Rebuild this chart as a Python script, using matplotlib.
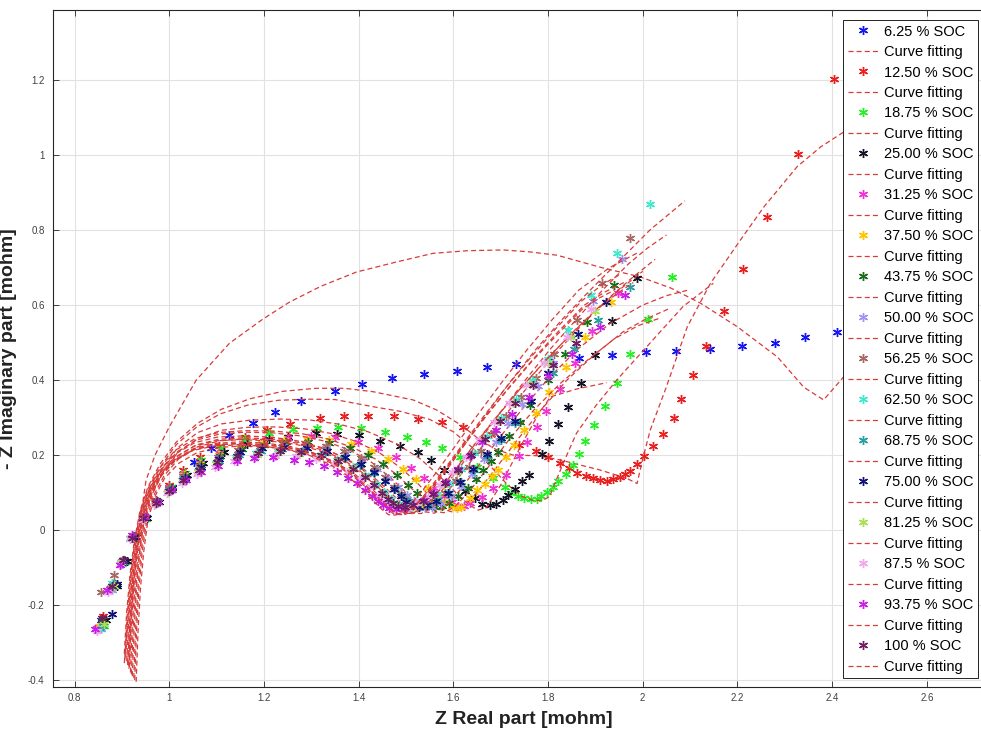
import matplotlib
matplotlib.use("Agg")
import matplotlib.pyplot as plt

plt.rcParams['font.family'] = ['Liberation Sans', 'DejaVu Sans']

# Measured impedance spectra (Nyquist), one set per state of charge
soc_labels = ["6.25 % SOC", "12.50 % SOC", "18.75 % SOC", "25.00 % SOC",
              "31.25 % SOC", "37.50 % SOC", "43.75 % SOC", "50.00 % SOC",
              "56.25 % SOC", "62.50 % SOC", "68.75 % SOC", "75.00 % SOC",
              "81.25 % SOC", "87.5 % SOC", "93.75 % SOC", "100 % SOC"]
soc_colors = ["#1616f0", "#e82020", "#28ee28", "#141426", "#f034d4", "#ffc400",
              "#1c6e1c", "#a094f0", "#a66a64", "#40e8cc", "#28a0a0", "#141478",
              "#a8e050", "#f2a6ec", "#c81ee6", "#6e1e64"]

re_625 = [0.855, 0.880, 0.905, 0.925, 0.950, 0.975, 1.005, 1.030, 1.053, 1.089, 1.127, 1.176, 1.224, 1.279, 1.351, 1.406, 1.470, 1.538, 1.607, 1.671, 1.732, 1.800, 1.866, 1.936, 2.007, 2.071, 2.141, 2.209, 2.279, 2.343, 2.411]
im_625 = [-0.240, -0.150, -0.080, -0.015, 0.035, 0.078, 0.115, 0.150, 0.181, 0.219, 0.253, 0.285, 0.316, 0.344, 0.371, 0.389, 0.405, 0.416, 0.424, 0.435, 0.443, 0.452, 0.460, 0.467, 0.475, 0.478, 0.484, 0.491, 0.500, 0.516, 0.527]
re_1250 = [0.860, 0.885, 0.905, 0.925, 0.948, 0.972, 1.000, 1.030, 1.065, 1.105, 1.159, 1.206, 1.256, 1.319, 1.368, 1.419, 1.474, 1.526, 1.575, 1.620, 1.680, 1.739, 1.774, 1.800, 1.825, 1.845, 1.862, 1.880, 1.895, 1.910, 1.924, 1.937, 1.951, 1.963, 1.974, 1.988, 2.003, 2.021, 2.043, 2.065, 2.081, 2.106, 2.134, 2.172, 2.211, 2.262, 2.327, 2.404]
im_1250 = [-0.230, -0.145, -0.080, -0.015, 0.035, 0.080, 0.120, 0.160, 0.195, 0.225, 0.249, 0.267, 0.282, 0.298, 0.304, 0.305, 0.303, 0.295, 0.287, 0.275, 0.255, 0.227, 0.211, 0.194, 0.178, 0.166, 0.153, 0.145, 0.138, 0.133, 0.131, 0.137, 0.142, 0.149, 0.158, 0.175, 0.197, 0.224, 0.256, 0.298, 0.349, 0.413, 0.491, 0.585, 0.696, 0.834, 1.002, 1.204]
re_1875 = [0.862, 0.884, 0.906, 0.926, 0.950, 0.975, 1.003, 1.033, 1.068, 1.110, 1.160, 1.210, 1.262, 1.311, 1.357, 1.405, 1.456, 1.503, 1.542, 1.577, 1.615, 1.650, 1.683, 1.709, 1.722, 1.736, 1.750, 1.763, 1.776, 1.786, 1.798, 1.810, 1.822, 1.838, 1.853, 1.866, 1.878, 1.898, 1.920, 1.946, 1.974, 2.012, 2.062]
im_1875 = [-0.255, -0.150, -0.085, -0.020, 0.030, 0.075, 0.115, 0.152, 0.188, 0.218, 0.242, 0.258, 0.269, 0.273, 0.276, 0.271, 0.262, 0.249, 0.234, 0.218, 0.195, 0.168, 0.140, 0.116, 0.100, 0.090, 0.085, 0.082, 0.082, 0.091, 0.102, 0.115, 0.131, 0.149, 0.173, 0.203, 0.238, 0.280, 0.332, 0.391, 0.469, 0.563, 0.674]
re_2500 = [0.866, 0.890, 0.910, 0.930, 0.952, 0.978, 1.006, 1.037, 1.072, 1.115, 1.165, 1.210, 1.251, 1.309, 1.355, 1.400, 1.445, 1.487, 1.525, 1.553, 1.580, 1.605, 1.625, 1.645, 1.660, 1.677, 1.691, 1.705, 1.716, 1.730, 1.746, 1.760, 1.787, 1.803, 1.820, 1.843, 1.869, 1.900, 1.935, 1.987]
im_2500 = [-0.240, -0.148, -0.082, -0.018, 0.032, 0.075, 0.112, 0.148, 0.180, 0.208, 0.230, 0.243, 0.249, 0.258, 0.257, 0.253, 0.238, 0.224, 0.209, 0.187, 0.160, 0.130, 0.105, 0.085, 0.069, 0.066, 0.069, 0.080, 0.093, 0.110, 0.131, 0.148, 0.203, 0.238, 0.282, 0.329, 0.393, 0.467, 0.558, 0.671]
re_3125 = [0.848, 0.874, 0.898, 0.920, 0.946, 0.972, 1.000, 1.030, 1.064, 1.105, 1.152, 1.200, 1.250, 1.300, 1.350, 1.398, 1.440, 1.478, 1.510, 1.538, 1.560, 1.580, 1.597, 1.610, 1.622, 1.635, 1.660, 1.684, 1.712, 1.739, 1.755, 1.776, 1.796, 1.825, 1.857, 1.893, 1.947]
im_3125 = [-0.262, -0.158, -0.088, -0.020, 0.035, 0.078, 0.115, 0.150, 0.180, 0.205, 0.225, 0.238, 0.246, 0.250, 0.247, 0.236, 0.218, 0.194, 0.166, 0.138, 0.112, 0.090, 0.074, 0.065, 0.064, 0.071, 0.089, 0.111, 0.147, 0.197, 0.234, 0.276, 0.318, 0.375, 0.446, 0.532, 0.631]
re_3750 = [0.852, 0.877, 0.900, 0.922, 0.947, 0.973, 1.001, 1.031, 1.065, 1.105, 1.150, 1.196, 1.243, 1.290, 1.338, 1.384, 1.425, 1.462, 1.494, 1.522, 1.546, 1.566, 1.583, 1.597, 1.607, 1.617, 1.635, 1.650, 1.666, 1.681, 1.695, 1.712, 1.728, 1.749, 1.774, 1.803, 1.838, 1.879, 1.933]
im_3750 = [-0.255, -0.152, -0.085, -0.018, 0.034, 0.076, 0.112, 0.146, 0.175, 0.199, 0.218, 0.231, 0.239, 0.243, 0.240, 0.229, 0.211, 0.189, 0.163, 0.136, 0.111, 0.090, 0.074, 0.064, 0.060, 0.062, 0.085, 0.107, 0.123, 0.145, 0.160, 0.194, 0.227, 0.267, 0.313, 0.367, 0.436, 0.516, 0.609]
re_4375 = [0.857, 0.882, 0.903, 0.925, 0.949, 0.975, 1.003, 1.034, 1.068, 1.108, 1.153, 1.199, 1.246, 1.292, 1.338, 1.381, 1.419, 1.452, 1.480, 1.504, 1.524, 1.540, 1.553, 1.561, 1.575, 1.590, 1.610, 1.630, 1.648, 1.663, 1.680, 1.695, 1.718, 1.741, 1.762, 1.800, 1.836, 1.882, 1.939]
im_4375 = [-0.240, -0.145, -0.080, -0.015, 0.036, 0.077, 0.112, 0.145, 0.173, 0.197, 0.215, 0.227, 0.234, 0.236, 0.231, 0.218, 0.199, 0.175, 0.148, 0.121, 0.098, 0.080, 0.068, 0.062, 0.064, 0.072, 0.090, 0.112, 0.135, 0.160, 0.185, 0.209, 0.250, 0.289, 0.333, 0.400, 0.469, 0.554, 0.653]
re_5000 = [0.855, 0.878, 0.900, 0.921, 0.946, 0.972, 1.000, 1.030, 1.064, 1.103, 1.147, 1.193, 1.240, 1.287, 1.332, 1.373, 1.408, 1.438, 1.463, 1.484, 1.502, 1.516, 1.528, 1.540, 1.555, 1.573, 1.594, 1.617, 1.640, 1.665, 1.690, 1.716, 1.745, 1.778, 1.810, 1.846, 1.894, 1.957]
im_5000 = [-0.265, -0.160, -0.090, -0.022, 0.032, 0.074, 0.108, 0.140, 0.167, 0.189, 0.206, 0.218, 0.224, 0.225, 0.219, 0.206, 0.187, 0.164, 0.139, 0.114, 0.093, 0.077, 0.065, 0.060, 0.062, 0.072, 0.092, 0.118, 0.150, 0.190, 0.235, 0.285, 0.335, 0.385, 0.445, 0.520, 0.611, 0.722]
re_5625 = [0.856, 0.884, 0.900, 0.920, 0.945, 0.971, 0.999, 1.029, 1.063, 1.102, 1.146, 1.192, 1.239, 1.286, 1.330, 1.370, 1.404, 1.432, 1.455, 1.474, 1.489, 1.501, 1.512, 1.525, 1.541, 1.560, 1.582, 1.606, 1.632, 1.658, 1.685, 1.712, 1.742, 1.775, 1.812, 1.862, 1.914, 1.974]
im_5625 = [-0.165, -0.120, -0.082, -0.020, 0.034, 0.076, 0.111, 0.144, 0.172, 0.195, 0.213, 0.225, 0.231, 0.232, 0.225, 0.211, 0.191, 0.167, 0.141, 0.116, 0.095, 0.079, 0.067, 0.062, 0.066, 0.078, 0.100, 0.130, 0.168, 0.210, 0.258, 0.305, 0.355, 0.405, 0.470, 0.560, 0.660, 0.780]
re_6250 = [0.852, 0.880, 0.897, 0.918, 0.943, 0.969, 0.997, 1.027, 1.060, 1.098, 1.140, 1.184, 1.230, 1.275, 1.318, 1.355, 1.387, 1.414, 1.436, 1.454, 1.468, 1.480, 1.492, 1.506, 1.523, 1.543, 1.566, 1.590, 1.616, 1.643, 1.671, 1.700, 1.732, 1.766, 1.800, 1.843, 1.890, 1.946, 2.015]
im_6250 = [-0.265, -0.142, -0.088, -0.022, 0.030, 0.070, 0.103, 0.133, 0.158, 0.179, 0.195, 0.205, 0.210, 0.209, 0.201, 0.187, 0.168, 0.146, 0.123, 0.101, 0.083, 0.069, 0.060, 0.058, 0.062, 0.074, 0.095, 0.125, 0.162, 0.205, 0.252, 0.300, 0.350, 0.400, 0.455, 0.533, 0.627, 0.738, 0.869]
re_6875 = [0.860, 0.883, 0.902, 0.923, 0.947, 0.973, 1.001, 1.031, 1.065, 1.104, 1.147, 1.193, 1.239, 1.285, 1.329, 1.369, 1.403, 1.432, 1.456, 1.476, 1.492, 1.505, 1.517, 1.530, 1.546, 1.566, 1.590, 1.616, 1.643, 1.671, 1.700, 1.730, 1.765, 1.810, 1.855, 1.906, 1.973]
im_6875 = [-0.255, -0.150, -0.085, -0.020, 0.031, 0.072, 0.106, 0.137, 0.163, 0.185, 0.201, 0.211, 0.215, 0.214, 0.206, 0.192, 0.174, 0.153, 0.131, 0.110, 0.092, 0.078, 0.068, 0.065, 0.068, 0.080, 0.100, 0.127, 0.160, 0.198, 0.240, 0.285, 0.345, 0.418, 0.483, 0.560, 0.647]
re_7500 = [0.879, 0.890, 0.906, 0.926, 0.949, 0.975, 1.003, 1.033, 1.067, 1.106, 1.150, 1.196, 1.243, 1.290, 1.333, 1.372, 1.405, 1.432, 1.455, 1.474, 1.489, 1.501, 1.513, 1.527, 1.544, 1.564, 1.588, 1.614, 1.642, 1.671, 1.700, 1.731, 1.764, 1.800, 1.864, 1.922]
im_7500 = [-0.224, -0.145, -0.083, -0.019, 0.033, 0.074, 0.108, 0.140, 0.167, 0.190, 0.207, 0.218, 0.222, 0.220, 0.211, 0.196, 0.176, 0.154, 0.131, 0.109, 0.090, 0.076, 0.066, 0.062, 0.066, 0.078, 0.099, 0.127, 0.162, 0.202, 0.246, 0.292, 0.345, 0.420, 0.522, 0.609]
re_8125 = [0.862, 0.884, 0.899, 0.920, 0.944, 0.970, 0.998, 1.028, 1.061, 1.099, 1.141, 1.185, 1.230, 1.275, 1.317, 1.354, 1.385, 1.411, 1.432, 1.449, 1.462, 1.473, 1.484, 1.497, 1.513, 1.533, 1.556, 1.581, 1.607, 1.635, 1.664, 1.694, 1.727, 1.762, 1.800, 1.848, 1.900]
im_8125 = [-0.250, -0.148, -0.086, -0.021, 0.030, 0.069, 0.101, 0.130, 0.155, 0.175, 0.190, 0.200, 0.205, 0.204, 0.196, 0.182, 0.163, 0.142, 0.120, 0.099, 0.082, 0.069, 0.061, 0.058, 0.062, 0.073, 0.093, 0.121, 0.156, 0.197, 0.242, 0.290, 0.340, 0.390, 0.445, 0.515, 0.585]
re_8750 = [0.847, 0.870, 0.896, 0.918, 0.942, 0.968, 0.996, 1.026, 1.059, 1.096, 1.137, 1.180, 1.224, 1.268, 1.309, 1.345, 1.376, 1.402, 1.423, 1.440, 1.453, 1.464, 1.475, 1.488, 1.504, 1.524, 1.547, 1.572, 1.598, 1.626, 1.655, 1.685, 1.718, 1.753, 1.792, 1.840, 1.890]
im_8750 = [-0.270, -0.165, -0.090, -0.024, 0.028, 0.066, 0.098, 0.126, 0.150, 0.169, 0.184, 0.194, 0.198, 0.197, 0.189, 0.175, 0.156, 0.135, 0.114, 0.094, 0.078, 0.066, 0.058, 0.056, 0.060, 0.071, 0.091, 0.119, 0.154, 0.195, 0.240, 0.288, 0.338, 0.388, 0.445, 0.515, 0.590]
re_9375 = [0.843, 0.868, 0.895, 0.922, 0.948, 0.976, 1.005, 1.035, 1.068, 1.102, 1.142, 1.179, 1.220, 1.264, 1.296, 1.327, 1.354, 1.377, 1.396, 1.413, 1.428, 1.441, 1.452, 1.464, 1.478, 1.495, 1.515, 1.537, 1.560, 1.584, 1.610, 1.635, 1.660, 1.690, 1.723, 1.760, 1.800, 1.851, 1.910, 1.962]
im_9375 = [-0.265, -0.160, -0.092, -0.013, 0.035, 0.075, 0.107, 0.133, 0.156, 0.171, 0.184, 0.191, 0.194, 0.188, 0.182, 0.171, 0.156, 0.138, 0.125, 0.107, 0.092, 0.078, 0.066, 0.058, 0.055, 0.058, 0.066, 0.080, 0.100, 0.128, 0.162, 0.198, 0.235, 0.267, 0.309, 0.354, 0.410, 0.470, 0.542, 0.627]
re_100 = [0.858, 0.880, 0.902, 0.921, 0.945, 0.971, 0.999, 1.029, 1.062, 1.100, 1.143, 1.188, 1.233, 1.278, 1.320, 1.357, 1.388, 1.413, 1.433, 1.449, 1.461, 1.472, 1.484, 1.498, 1.515, 1.535, 1.558, 1.583, 1.610, 1.638, 1.667, 1.698, 1.731, 1.768, 1.810, 1.860]
im_100 = [-0.235, -0.150, -0.080, -0.020, 0.031, 0.071, 0.104, 0.134, 0.160, 0.181, 0.197, 0.206, 0.210, 0.208, 0.199, 0.184, 0.164, 0.142, 0.120, 0.100, 0.083, 0.071, 0.064, 0.062, 0.066, 0.077, 0.097, 0.125, 0.160, 0.200, 0.244, 0.290, 0.338, 0.388, 0.440, 0.500]

# Equivalent-circuit fits
fre_625 = [0.905, 0.912, 0.920, 0.930, 0.940, 0.951, 0.970, 1.000, 1.057, 1.127, 1.197, 1.254, 1.320, 1.395, 1.480, 1.557, 1.630, 1.705, 1.760, 1.819, 1.910, 1.995, 2.060, 2.122, 2.200, 2.285, 2.340, 2.382, 2.424, 2.460]
fim_625 = [-0.355, -0.250, -0.150, -0.050, 0.040, 0.133, 0.200, 0.275, 0.400, 0.498, 0.562, 0.608, 0.650, 0.688, 0.715, 0.738, 0.745, 0.747, 0.742, 0.733, 0.701, 0.675, 0.645, 0.605, 0.542, 0.461, 0.381, 0.347, 0.408, 0.470]
fre_1250 = [0.905, 0.910, 0.917, 0.926, 0.938, 0.955, 0.980, 1.015, 1.060, 1.110, 1.170, 1.240, 1.310, 1.370, 1.430, 1.515, 1.565, 1.621, 1.656, 1.690, 1.726, 1.780, 1.825, 1.910, 1.966, 1.988, 2.001, 2.016, 2.050, 2.094, 2.143, 2.206, 2.256, 2.326, 2.376, 2.425, 2.480]
fim_1250 = [-0.330, -0.220, -0.120, -0.030, 0.050, 0.115, 0.175, 0.235, 0.285, 0.322, 0.350, 0.370, 0.378, 0.378, 0.369, 0.347, 0.320, 0.276, 0.240, 0.215, 0.200, 0.198, 0.187, 0.160, 0.138, 0.124, 0.195, 0.267, 0.382, 0.542, 0.658, 0.773, 0.862, 0.969, 1.022, 1.062, 1.095]
fre_1875 = [0.912, 0.917, 0.923, 0.931, 0.942, 0.958, 0.982, 1.015, 1.058, 1.108, 1.165, 1.230, 1.296, 1.350, 1.430, 1.490, 1.550, 1.600, 1.640, 1.680, 1.715, 1.745, 1.770, 1.790, 1.803, 1.832, 1.860, 1.900, 1.945, 2.015, 2.085, 2.149]
fim_1875 = [-0.360, -0.240, -0.130, -0.035, 0.045, 0.110, 0.170, 0.228, 0.275, 0.310, 0.333, 0.346, 0.349, 0.348, 0.329, 0.316, 0.295, 0.262, 0.220, 0.168, 0.120, 0.090, 0.078, 0.080, 0.089, 0.178, 0.258, 0.330, 0.400, 0.498, 0.596, 0.658]
fre_2500 = [0.918, 0.922, 0.928, 0.936, 0.947, 0.962, 0.985, 1.018, 1.060, 1.110, 1.170, 1.235, 1.300, 1.360, 1.420, 1.480, 1.530, 1.570, 1.605, 1.632, 1.652, 1.670, 1.700, 1.745, 1.780, 1.805, 1.860, 1.924]
fim_2500 = [-0.380, -0.250, -0.140, -0.045, 0.040, 0.105, 0.165, 0.220, 0.260, 0.283, 0.293, 0.296, 0.293, 0.282, 0.262, 0.230, 0.190, 0.145, 0.100, 0.068, 0.053, 0.060, 0.120, 0.230, 0.310, 0.355, 0.376, 0.393]
fre_3125 = [0.925, 0.929, 0.934, 0.941, 0.951, 0.966, 0.988, 1.020, 1.062, 1.110, 1.165, 1.225, 1.285, 1.340, 1.395, 1.445, 1.490, 1.528, 1.558, 1.580, 1.598, 1.620, 1.650, 1.690, 1.735, 1.785, 1.840, 1.900, 1.960, 2.010, 2.057]
fim_3125 = [-0.395, -0.260, -0.150, -0.050, 0.035, 0.100, 0.158, 0.210, 0.245, 0.266, 0.274, 0.275, 0.270, 0.258, 0.236, 0.205, 0.165, 0.120, 0.080, 0.055, 0.048, 0.060, 0.100, 0.165, 0.240, 0.320, 0.400, 0.470, 0.530, 0.565, 0.591]
fre_3750 = [0.908, 0.913, 0.919, 0.927, 0.938, 0.954, 0.978, 1.012, 1.055, 1.104, 1.160, 1.220, 1.280, 1.335, 1.388, 1.436, 1.478, 1.514, 1.542, 1.562, 1.580, 1.603, 1.635, 1.675, 1.720, 1.770, 1.825, 1.885, 1.940, 1.990, 2.036]
fim_3750 = [-0.340, -0.225, -0.125, -0.035, 0.045, 0.108, 0.163, 0.212, 0.244, 0.260, 0.265, 0.264, 0.257, 0.243, 0.220, 0.189, 0.150, 0.108, 0.072, 0.050, 0.046, 0.062, 0.105, 0.170, 0.245, 0.320, 0.390, 0.455, 0.510, 0.545, 0.565]
fre_4375 = [0.915, 0.919, 0.925, 0.933, 0.944, 0.960, 0.983, 1.016, 1.058, 1.106, 1.160, 1.220, 1.278, 1.332, 1.383, 1.428, 1.467, 1.500, 1.525, 1.543, 1.560, 1.583, 1.615, 1.655, 1.700, 1.750, 1.805, 1.865, 1.930, 2.000, 2.050, 2.096]
fim_4375 = [-0.370, -0.245, -0.135, -0.040, 0.042, 0.105, 0.160, 0.208, 0.240, 0.256, 0.261, 0.259, 0.251, 0.236, 0.212, 0.180, 0.140, 0.100, 0.068, 0.048, 0.045, 0.062, 0.108, 0.175, 0.250, 0.330, 0.410, 0.485, 0.550, 0.600, 0.625, 0.640]
fre_5000 = [0.920, 0.924, 0.930, 0.938, 0.948, 0.963, 0.985, 1.016, 1.057, 1.104, 1.157, 1.215, 1.272, 1.325, 1.372, 1.413, 1.448, 1.477, 1.499, 1.515, 1.532, 1.555, 1.585, 1.622, 1.665, 1.712, 1.762, 1.815, 1.870, 1.925, 1.975, 2.026]
fim_5000 = [-0.385, -0.255, -0.145, -0.048, 0.036, 0.098, 0.151, 0.196, 0.227, 0.242, 0.246, 0.243, 0.234, 0.217, 0.192, 0.160, 0.123, 0.088, 0.060, 0.045, 0.044, 0.060, 0.098, 0.158, 0.230, 0.310, 0.390, 0.470, 0.545, 0.615, 0.670, 0.722]
fre_5625 = [0.910, 0.915, 0.921, 0.929, 0.940, 0.956, 0.979, 1.012, 1.054, 1.102, 1.156, 1.214, 1.270, 1.322, 1.368, 1.408, 1.442, 1.469, 1.490, 1.505, 1.522, 1.545, 1.575, 1.612, 1.655, 1.702, 1.752, 1.805, 1.860, 1.915, 1.970, 2.010, 2.050]
fim_5625 = [-0.350, -0.230, -0.128, -0.038, 0.043, 0.104, 0.157, 0.202, 0.233, 0.248, 0.251, 0.248, 0.238, 0.220, 0.194, 0.161, 0.124, 0.089, 0.062, 0.048, 0.047, 0.064, 0.104, 0.165, 0.238, 0.318, 0.400, 0.483, 0.562, 0.640, 0.710, 0.752, 0.787]
fre_6250 = [0.922, 0.926, 0.931, 0.938, 0.948, 0.962, 0.983, 1.013, 1.052, 1.097, 1.148, 1.203, 1.258, 1.308, 1.352, 1.391, 1.424, 1.450, 1.469, 1.483, 1.499, 1.520, 1.548, 1.583, 1.624, 1.670, 1.720, 1.773, 1.830, 1.889, 1.945, 2.015, 2.089]
fim_6250 = [-0.390, -0.260, -0.150, -0.052, 0.032, 0.093, 0.144, 0.186, 0.215, 0.228, 0.231, 0.228, 0.219, 0.203, 0.180, 0.150, 0.115, 0.082, 0.057, 0.043, 0.042, 0.058, 0.096, 0.155, 0.228, 0.310, 0.395, 0.480, 0.562, 0.640, 0.711, 0.800, 0.878]
fre_6875 = [0.912, 0.917, 0.923, 0.931, 0.942, 0.957, 0.980, 1.012, 1.053, 1.100, 1.153, 1.210, 1.266, 1.317, 1.363, 1.402, 1.436, 1.463, 1.484, 1.499, 1.516, 1.538, 1.567, 1.603, 1.645, 1.692, 1.742, 1.795, 1.850, 1.905, 1.955, 2.000]
fim_6875 = [-0.355, -0.235, -0.132, -0.042, 0.040, 0.100, 0.151, 0.194, 0.224, 0.238, 0.241, 0.238, 0.229, 0.212, 0.187, 0.155, 0.119, 0.085, 0.059, 0.046, 0.046, 0.062, 0.100, 0.158, 0.228, 0.302, 0.378, 0.452, 0.525, 0.592, 0.645, 0.690]
fre_7500 = [0.927, 0.931, 0.936, 0.943, 0.953, 0.967, 0.989, 1.020, 1.060, 1.106, 1.158, 1.214, 1.269, 1.319, 1.364, 1.403, 1.436, 1.462, 1.482, 1.497, 1.514, 1.536, 1.565, 1.601, 1.643, 1.690, 1.740, 1.793, 1.848, 1.905, 1.945, 1.980]
fim_7500 = [-0.400, -0.265, -0.155, -0.055, 0.030, 0.092, 0.145, 0.190, 0.222, 0.238, 0.243, 0.241, 0.232, 0.215, 0.190, 0.158, 0.121, 0.087, 0.060, 0.045, 0.044, 0.060, 0.098, 0.156, 0.226, 0.300, 0.375, 0.450, 0.522, 0.590, 0.630, 0.660]
fre_8125 = [0.916, 0.920, 0.926, 0.934, 0.945, 0.960, 0.982, 1.013, 1.052, 1.097, 1.148, 1.202, 1.256, 1.305, 1.349, 1.387, 1.419, 1.445, 1.465, 1.480, 1.496, 1.517, 1.545, 1.580, 1.621, 1.667, 1.716, 1.768, 1.822, 1.877, 1.920, 1.960]
fim_8125 = [-0.365, -0.242, -0.137, -0.045, 0.038, 0.097, 0.146, 0.186, 0.214, 0.227, 0.230, 0.227, 0.218, 0.202, 0.179, 0.149, 0.114, 0.081, 0.057, 0.043, 0.042, 0.058, 0.096, 0.154, 0.224, 0.300, 0.378, 0.455, 0.530, 0.600, 0.635, 0.660]
fre_8750 = [0.930, 0.934, 0.939, 0.946, 0.955, 0.969, 0.990, 1.020, 1.058, 1.102, 1.152, 1.205, 1.258, 1.306, 1.349, 1.386, 1.417, 1.442, 1.461, 1.475, 1.491, 1.512, 1.540, 1.575, 1.616, 1.662, 1.711, 1.763, 1.817, 1.872, 1.915, 1.950]
fim_8750 = [-0.405, -0.270, -0.158, -0.058, 0.028, 0.088, 0.138, 0.178, 0.206, 0.220, 0.224, 0.222, 0.213, 0.198, 0.175, 0.146, 0.112, 0.080, 0.056, 0.042, 0.041, 0.057, 0.095, 0.152, 0.222, 0.300, 0.380, 0.460, 0.538, 0.612, 0.655, 0.680]
fre_9375 = [0.906, 0.911, 0.918, 0.927, 0.939, 0.955, 0.978, 1.010, 1.049, 1.094, 1.144, 1.196, 1.248, 1.296, 1.338, 1.375, 1.405, 1.430, 1.449, 1.463, 1.479, 1.500, 1.528, 1.563, 1.604, 1.650, 1.700, 1.752, 1.808, 1.865, 1.930, 1.990]
fim_9375 = [-0.345, -0.228, -0.126, -0.036, 0.044, 0.101, 0.148, 0.186, 0.212, 0.224, 0.227, 0.224, 0.215, 0.199, 0.176, 0.146, 0.112, 0.079, 0.055, 0.041, 0.040, 0.056, 0.094, 0.152, 0.224, 0.305, 0.390, 0.475, 0.560, 0.640, 0.700, 0.740]
fre_100 = [0.914, 0.919, 0.925, 0.933, 0.944, 0.959, 0.981, 1.012, 1.051, 1.096, 1.147, 1.201, 1.255, 1.304, 1.348, 1.386, 1.418, 1.444, 1.464, 1.479, 1.495, 1.516, 1.544, 1.579, 1.620, 1.666, 1.715, 1.766, 1.820, 1.873, 1.910, 1.940]
fim_100 = [-0.362, -0.240, -0.135, -0.044, 0.039, 0.098, 0.147, 0.188, 0.217, 0.231, 0.235, 0.232, 0.223, 0.206, 0.182, 0.151, 0.115, 0.082, 0.058, 0.044, 0.043, 0.059, 0.097, 0.155, 0.225, 0.300, 0.375, 0.450, 0.522, 0.590, 0.620, 0.640]

measured = [(re_625, im_625), (re_1250, im_1250), (re_1875, im_1875), (re_2500, im_2500),
            (re_3125, im_3125), (re_3750, im_3750), (re_4375, im_4375), (re_5000, im_5000),
            (re_5625, im_5625), (re_6250, im_6250), (re_6875, im_6875), (re_7500, im_7500),
            (re_8125, im_8125), (re_8750, im_8750), (re_9375, im_9375), (re_100, im_100)]
fitted = [(fre_625, fim_625), (fre_1250, fim_1250), (fre_1875, fim_1875), (fre_2500, fim_2500),
          (fre_3125, fim_3125), (fre_3750, fim_3750), (fre_4375, fim_4375), (fre_5000, fim_5000),
          (fre_5625, fim_5625), (fre_6250, fim_6250), (fre_6875, fim_6875), (fre_7500, fim_7500),
          (fre_8125, fim_8125), (fre_8750, fim_8750), (fre_9375, fim_9375), (fre_100, fim_100)]

fig = plt.figure(figsize=(9.81, 7.34), dpi=100)
ax = fig.add_axes([53 / 981, 47 / 734, 942 / 981, 677 / 734])

asterisk = (6, 2, 0)
for label, color, (zr, zi), (fr, fi) in zip(soc_labels, soc_colors, measured, fitted):
    ax.plot(zr, zi, linestyle="none", marker=asterisk, markersize=6.5,
            markeredgewidth=1.0, color=color, label=label)
    ax.plot(fr, fi, linestyle=(0, (4, 2.5)), lw=0.9, color="#d83a3a",
            label="Curve fitting")

ax.set_xlim(0.7544, 2.744)
ax.set_ylim(-0.4187, 1.387)
xt = [0.8, 1.0, 1.2, 1.4, 1.6, 1.8, 2.0, 2.2, 2.4, 2.6]
yt = [-0.4, -0.2, 0.0, 0.2, 0.4, 0.6, 0.8, 1.0, 1.2]
ax.set_xticks(xt)
ax.set_xticklabels(["0.8", "1", "1.2", "1.4", "1.6", "1.8", "2", "2.2", "2.4", "2.6"])
ax.set_yticks(yt)
ax.set_yticklabels(["-0.4", "-0.2", "0", "0.2", "0.4", "0.6", "0.8", "1", "1.2"])
ax.grid(True, color="#e2e2e2", lw=0.8)
ax.set_axisbelow(True)
ax.tick_params(direction="in", length=4, width=0.6, top=True, right=True,
               labelsize=7, colors="#262626", labelcolor="#404040")
ax.tick_params(axis="x", pad=4)
ax.tick_params(axis="y", pad=6)
for s in ax.spines.values():
    s.set_color("#262626")
    s.set_linewidth(0.8)

lab_font = dict(family=["Liberation Sans Narrow", "Liberation Sans"], weight="bold",
                size=14, color="#222222")
ax.set_xlabel("Z Real part [mohm]", labelpad=6, **lab_font)
ax.set_ylabel("- Z Imaginary part [mohm]", labelpad=8, **lab_font)

leg = ax.legend(loc="upper right", bbox_to_anchor=(0.982, 0.985), borderaxespad=0,
                fontsize=10.5, labelspacing=0.445, handlelength=2.1, handletextpad=0.4,
                borderpad=0.3, fancybox=False, framealpha=1, edgecolor="#222222")
leg.get_frame().set_linewidth(0.7)

fig.savefig("out.png", dpi=100)
